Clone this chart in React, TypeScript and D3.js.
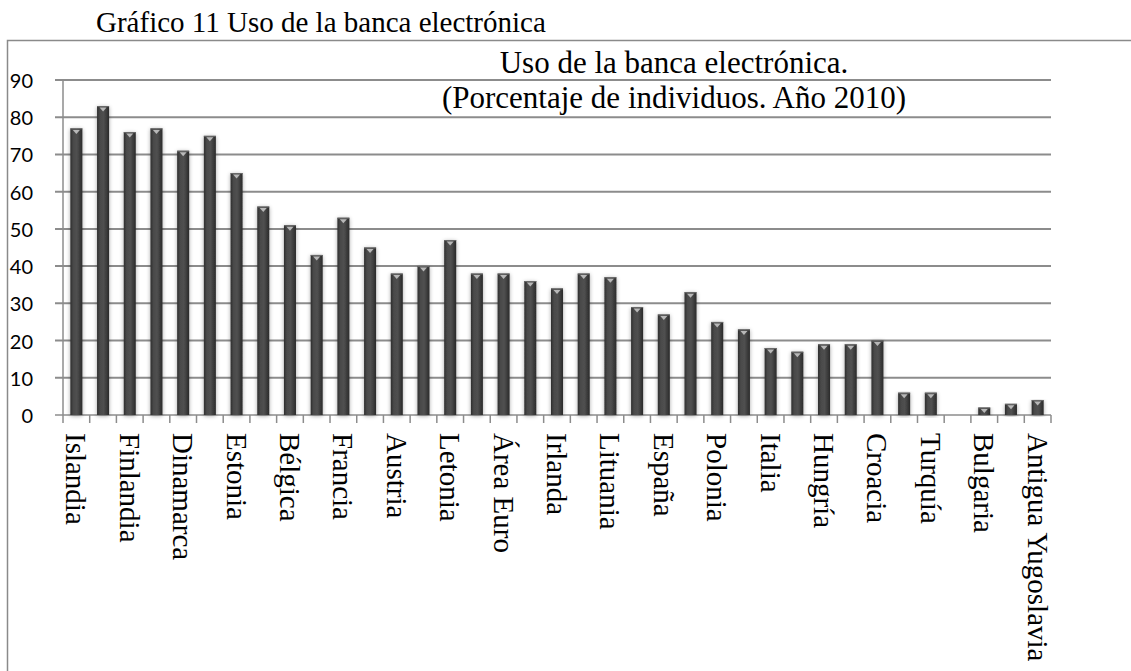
import React from "react";
import * as d3 from "d3";

const categories: string[] = [
  "Islandia", "Noruega", "Finlandia", "Países Bajos", "Dinamarca", "Suecia",
  "Estonia", "Luxemburgo", "Bélgica", "Reino Unido", "Francia", "Alemania",
  "Austria", "Eslovenia", "Letonia", "Malta", "Área Euro", "UE-27",
  "Irlanda", "Eslovaquia", "Lituania", "República Checa", "España", "Chipre",
  "Polonia", "Grecia", "Italia", "Portugal", "Hungría", "Rumanía",
  "Croacia", "Serbia", "Turquía", "Macedonia", "Bulgaria", "Montenegro",
  "Antigua Yugoslavia",
];

const values: (number | null)[] = [
  77, 83, 76, 77, 71, 75, 65, 56, 51, 43, 53, 45, 38, 40, 47, 38, 38, 36, 34,
  38, 37, 29, 27, 33, 25, 23, 18, 17, 19, 19, 20, 6, 6, null, 2, 3, 4,
];

const yTicks: number[] = [0, 10, 20, 30, 40, 50, 60, 70, 80, 90];

const caption = "Gráfico 11 Uso de la banca electrónica";
const titleLines: string[] = [
  "Uso de la banca electrónica.",
  "(Porcentaje de individuos. Año 2010)",
];

const W = 1131;
const H = 671;
const plotLeft = 63;
const plotRight = 1051;
const plotTop = 80;
const plotBottom = 415;

export default function App() {
  const x = d3
    .scaleBand<number>()
    .domain(categories.map((_, i) => i))
    .range([plotLeft, plotRight])
    .paddingInner(0.55)
    .paddingOuter(0.275);
  const y = d3.scaleLinear().domain([0, 90]).range([plotBottom, plotTop]);
  const step = x.step();
  const bw = x.bandwidth();
  const serif = "'Liberation Serif', 'Times New Roman', serif";
  const sans = "Lato, 'Open Sans', 'Liberation Sans', sans-serif";
  const grid = "#8c8c8c";

  return (
    <svg
      width={W}
      height={H}
      style={{ position: "absolute", left: 0, top: 0, background: "#fff" }}
    >
      <defs>
        <linearGradient id="barGrad" x1="0" x2="1" y1="0" y2="0">
          <stop offset="0" stopColor="#2e2e2e" />
          <stop offset="0.25" stopColor="#4a4a4a" />
          <stop offset="0.55" stopColor="#505050" />
          <stop offset="1" stopColor="#2a2a2a" />
        </linearGradient>
        <filter id="shadow" x="-50%" y="-10%" width="200%" height="120%">
          <feGaussianBlur in="SourceAlpha" stdDeviation="2" />
          <feOffset dx="0" dy="1" result="b" />
          <feComponentTransfer>
            <feFuncA type="linear" slope="0.35" />
          </feComponentTransfer>
          <feMerge>
            <feMergeNode />
            <feMergeNode in="SourceGraphic" />
          </feMerge>
        </filter>
      </defs>

      {/* caption */}
      <text x={96} y={32} fontFamily={serif} fontSize={29} fill="#000">
        {caption}
      </text>

      {/* chart border */}
      <path
        d={`M7.5,${H + 2} V40.5 H${W + 2}`}
        fill="none"
        stroke="#8a8a8a"
        strokeWidth={1.5}
      />

      {/* gridlines and y ticks */}
      {yTicks.map((t) => (
        <g key={t}>
          <line
            x1={55}
            x2={plotRight}
            y1={y(t)}
            y2={y(t)}
            stroke={grid}
            strokeWidth={t === 0 ? 1.5 : 2}
          />
          <text
            x={33}
            y={y(t)}
            textAnchor="end"
            dominantBaseline="central"
            fontFamily={sans}
            fontSize={20}
            fill="#000"
          >
            {t}
          </text>
        </g>
      ))}

      {/* y axis */}
      <line x1={plotLeft} x2={plotLeft} y1={plotTop} y2={plotBottom} stroke={grid} strokeWidth={1.5} />

      {/* x ticks */}
      {d3.range(categories.length + 1).map((i) => {
        const xx = plotLeft + i * step;
        return (
          <line key={i} x1={xx} x2={xx} y1={plotBottom} y2={plotBottom + 8} stroke={grid} strokeWidth={1.5} />
        );
      })}

      {/* title */}
      {titleLines.map((l, i) => (
        <text
          key={i}
          x={674}
          y={73 + i * 35}
          textAnchor="middle"
          fontFamily={serif}
          fontSize={31}
          fill="#000"
        >
          {l}
        </text>
      ))}

      {/* bars */}
      {values.map((v, i) => {
        if (v === null || v === undefined) return null;
        const bx = x(i)!;
        const top = y(v);
        const h = plotBottom - top;
        const capH = Math.min(4, h * 0.6);
        return (
          <g key={i} filter="url(#shadow)">
            <rect x={bx} y={top} width={bw} height={h} fill="url(#barGrad)" />
            <rect x={bx} y={top} width={bw} height={1} fill="#6a6a6a" />
            <path
              d={`M${bx + 2.5},${top + 1.5} L${bx + bw - 2.5},${top + 1.5} L${bx + bw / 2},${top + 1.5 + capH} Z`}
              fill="#b8b8b8"
            />
          </g>
        );
      })}

      {/* x labels */}
      {categories.map((c, i) =>
        i % 2 === 0 ? (
          <text
            key={c}
            transform={`translate(${x(i)! + bw / 2},433) rotate(90)`}
            textAnchor="start"
            dominantBaseline="central"
            fontFamily={serif}
            fontSize={29}
            fill="#000"
          >
            {c}
          </text>
        ) : null
      )}
    </svg>
  );
}
